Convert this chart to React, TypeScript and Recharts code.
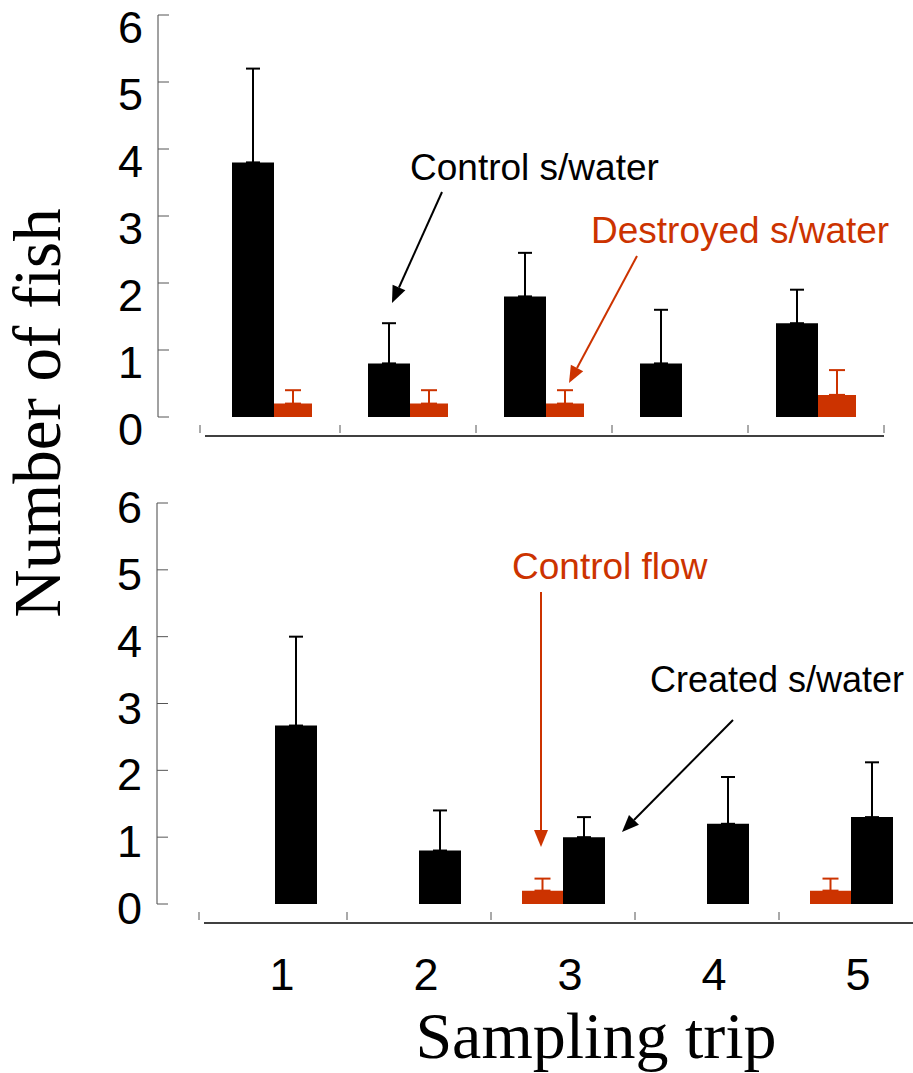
import React from 'react';
import { BarChart, Bar, XAxis, YAxis, ErrorBar } from 'recharts';

const RED = '#cc3300';
const SANS = '"Liberation Sans", Arial, sans-serif';
const SERIF = '"Liberation Serif", "Times New Roman", serif';

const trips = ['1', '2', '3', '4', '5'];
const yTicks = [0, 1, 2, 3, 4, 5, 6];

// upper panel: control vs destroyed s/water (mean, upper SE)
const controlSW = [3.8, 0.8, 1.8, 0.8, 1.4];
const controlSWErr = [1.4, 0.6, 0.65, 0.8, 0.5];
const destroyedSW = [0.2, 0.2, 0.2, null, 0.33];
const destroyedSWErr = [0.2, 0.2, 0.2, null, 0.37];

// lower panel: control flow vs created s/water
const controlFlow = [null, null, 0.2, null, 0.2];
const controlFlowErr = [null, null, 0.18, null, 0.18];
const createdSW = [2.67, 0.8, 1.0, 1.2, 1.3];
const createdSWErr = [1.33, 0.6, 0.3, 0.7, 0.82];

const upErr = (v: number | null) => (v == null ? null : [0, v]);

const topData = trips.map((trip, i) => ({
  trip,
  control: controlSW[i],
  controlErr: upErr(controlSWErr[i]),
  destroyed: destroyedSW[i],
  destroyedErr: upErr(destroyedSWErr[i]),
}));

const bottomData = trips.map((trip, i) => ({
  trip,
  flow: controlFlow[i],
  flowErr: upErr(controlFlowErr[i]),
  created: createdSW[i],
  createdErr: upErr(createdSWErr[i]),
}));

// y ticks point inward, labels sit a little below their tick
const makeYTick = (labelDy: number) => (props: any) => {
  const { x, y, payload } = props;
  return (
    <g>
      <line x1={x} x2={x + 11} y1={y} y2={y} stroke="#555" strokeWidth={1} />
      <text x={x - 15} y={y + labelDy} textAnchor="end" fontSize={45} fontFamily={SANS} fill="#000">
        {payload.value}
      </text>
    </g>
  );
};

// baseline drawn below zero, with small marks on the band boundaries
const makeXTick = (band: number, showLabel: boolean, tailExtra: number) => (props: any) => {
  const { x, y, payload, index, visibleTicksCount } = props;
  const left = x - band / 2;
  const right = x + band / 2;
  const last = index === (visibleTicksCount ?? 5) - 1;
  return (
    <g>
      <line
        x1={index === 0 ? left + 1 : left}
        x2={last ? right + tailExtra : right}
        y1={y + 19}
        y2={y + 19}
        stroke="#000"
        strokeWidth={1.5}
      />
      {index === 0 && <line x1={left - 4} x2={left - 4} y1={y + 8} y2={y + 16} stroke="#555" strokeWidth={1} />}
      <line x1={right} x2={right} y1={y + 8} y2={y + 16} stroke="#555" strokeWidth={1} />
      {showLabel && (
        <text x={x + 7} y={y + 86} textAnchor="middle" fontSize={45} fontFamily={SANS} fill="#000">
          {payload.value}
        </text>
      )}
    </g>
  );
};

function Arrow({ x1, y1, x2, y2, color }: { x1: number; y1: number; x2: number; y2: number; color: string }) {
  const len = 17;
  const half = 7;
  const a = Math.atan2(y2 - y1, x2 - x1);
  const bx = x2 - len * Math.cos(a);
  const by = y2 - len * Math.sin(a);
  const px = -Math.sin(a) * half;
  const py = Math.cos(a) * half;
  return (
    <g>
      <line x1={x1} y1={y1} x2={bx} y2={by} stroke={color} strokeWidth={2} />
      <polygon points={`${x2},${y2} ${bx + px},${by + py} ${bx - px},${by - py}`} fill={color} />
    </g>
  );
}

export default function App() {
  return (
    <div
      style={{
        position: 'absolute',
        left: 0,
        top: 0,
        width: 913,
        height: 1073,
        overflow: 'hidden',
        background: '#fff',
      }}
    >
      <div style={{ position: 'absolute', left: 0, top: 0 }}>
        <BarChart width={913} height={460} data={topData} margin={{ top: 15, right: 29, bottom: 0, left: 0 }} barGap={0}>
          <XAxis
            dataKey="trip"
            height={43}
            padding={{ left: 46, right: 0 }}
            axisLine={false}
            tickLine={false}
            tickSize={0}
            tickMargin={0}
            interval={0}
            tick={makeXTick(136, false, 0)}
          />
          <YAxis
            width={158}
            domain={[0, 6]}
            ticks={yTicks}
            interval={0}
            axisLine={{ stroke: '#444', strokeWidth: 1 }}
            tickLine={false}
            tickSize={0}
            tickMargin={0}
            tick={makeYTick(28)}
          />
          <Bar dataKey="control" fill="#000" barSize={42} isAnimationActive={false}>
            <ErrorBar dataKey="controlErr" direction="y" width={7} stroke="#000" strokeWidth={2} isAnimationActive={false} />
          </Bar>
          <Bar dataKey="destroyed" fill={RED} barSize={38} isAnimationActive={false}>
            <ErrorBar dataKey="destroyedErr" direction="y" width={8} stroke={RED} strokeWidth={2} isAnimationActive={false} />
          </Bar>
        </BarChart>
      </div>

      <div style={{ position: 'absolute', left: 0, top: 480 }}>
        <BarChart width={930} height={600} data={bottomData} margin={{ top: 23, right: 7, bottom: 0, left: 0 }} barGap={0}>
          <XAxis
            dataKey="trip"
            height={176}
            padding={{ left: 46, right: 0 }}
            axisLine={false}
            tickLine={false}
            tickSize={0}
            tickMargin={0}
            interval={0}
            tick={makeXTick(144, true, 30)}
          />
          <YAxis
            width={157}
            domain={[0, 6]}
            ticks={yTicks}
            interval={0}
            axisLine={{ stroke: '#444', strokeWidth: 1 }}
            tickLine={false}
            tickSize={0}
            tickMargin={0}
            tick={makeYTick(20)}
          />
          <Bar dataKey="flow" fill={RED} barSize={41} isAnimationActive={false}>
            <ErrorBar dataKey="flowErr" direction="y" width={8} stroke={RED} strokeWidth={2} isAnimationActive={false} />
          </Bar>
          <Bar dataKey="created" fill="#000" barSize={42} isAnimationActive={false}>
            <ErrorBar dataKey="createdErr" direction="y" width={7} stroke="#000" strokeWidth={2} isAnimationActive={false} />
          </Bar>
        </BarChart>
      </div>

      <svg width={913} height={1073} style={{ position: 'absolute', left: 0, top: 0, pointerEvents: 'none' }}>
        <text x={60} y={413} transform="rotate(-90 60 413)" textAnchor="middle" fontSize={67} fontFamily={SERIF} fill="#000">
          Number of fish
        </text>
        <text x={596} y={1058} textAnchor="middle" fontSize={66} fontFamily={SERIF} fill="#000">
          Sampling trip
        </text>

        <text x={410} y={180} fontSize={37} fontFamily={SANS} fill="#000">Control s/water</text>
        <Arrow x1={442} y1={192} x2={392} y2={303} color="#000" />
        <text x={591} y={243} fontSize={37} fontFamily={SANS} fill={RED}>Destroyed s/water</text>
        <Arrow x1={637} y1={256} x2={569} y2={383} color={RED} />

        <text x={512} y={579} fontSize={37} fontFamily={SANS} fill={RED}>Control flow</text>
        <Arrow x1={541} y1={592} x2={541} y2={847} color={RED} />
        <text x={650} y={692} fontSize={36} fontFamily={SANS} fill="#000">Created s/water</text>
        <Arrow x1={733} y1={720} x2={622} y2={832} color="#000" />
      </svg>
    </div>
  );
}
